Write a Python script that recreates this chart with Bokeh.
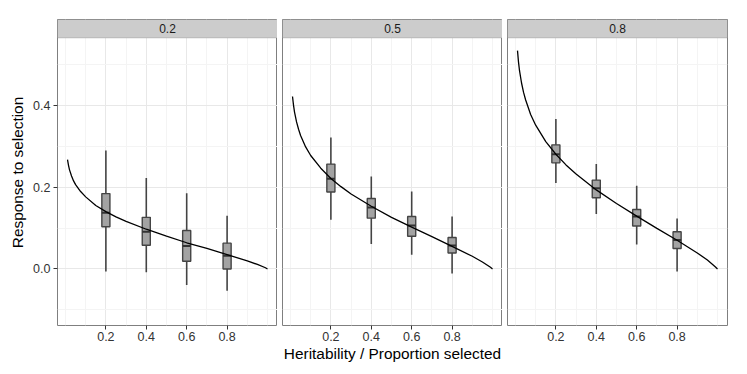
from bokeh.plotting import figure
from bokeh.layouts import row
from bokeh.models import Range1d, FixedTicker, BoxAnnotation, Label, ColumnDataSource, CustomJSTickFormatter
from bokeh.embed import file_html
from bokeh.resources import INLINE

# ---- data ----
heritability = ["0.2", "0.5", "0.8"]
box_x = [0.2, 0.4, 0.6, 0.8]

curve_p = [0.01, 0.015, 0.02, 0.03, 0.04, 0.05, 0.075, 0.1, 0.15, 0.2, 0.25,
           0.3, 0.4, 0.5, 0.6, 0.7, 0.8, 0.9, 0.95, 0.99, 1.0]
curve_h02 = [0.267, 0.253, 0.242, 0.227, 0.215, 0.206, 0.189, 0.176, 0.155, 0.140, 0.127,
             0.116, 0.097, 0.080, 0.064, 0.050, 0.035, 0.020, 0.011, 0.003, 0.0]
curve_h05 = [0.421, 0.400, 0.383, 0.359, 0.341, 0.326, 0.298, 0.277, 0.246, 0.221, 0.201,
             0.183, 0.153, 0.126, 0.102, 0.079, 0.055, 0.031, 0.017, 0.004, 0.0]
curve_h08 = [0.533, 0.505, 0.484, 0.454, 0.431, 0.413, 0.377, 0.351, 0.311, 0.280, 0.254,
             0.232, 0.193, 0.160, 0.129, 0.099, 0.070, 0.039, 0.022, 0.005, 0.0]

# whisker low, q1, median, q3, whisker high
lo_h02 = [-0.006, -0.008, -0.039, -0.053]
q1_h02 = [0.103, 0.058, 0.019, 0.000]
med_h02 = [0.137, 0.091, 0.056, 0.032]
q3_h02 = [0.184, 0.126, 0.094, 0.063]
hi_h02 = [0.289, 0.222, 0.185, 0.130]

lo_h05 = [0.120, 0.061, 0.035, -0.011]
q1_h05 = [0.188, 0.124, 0.080, 0.039]
med_h05 = [0.220, 0.150, 0.106, 0.057]
q3_h05 = [0.256, 0.172, 0.128, 0.077]
hi_h05 = [0.321, 0.226, 0.189, 0.128]

lo_h08 = [0.210, 0.134, 0.060, -0.006]
q1_h08 = [0.259, 0.174, 0.105, 0.050]
med_h08 = [0.280, 0.197, 0.128, 0.071]
q3_h08 = [0.303, 0.217, 0.145, 0.091]
hi_h08 = [0.366, 0.256, 0.203, 0.123]

y_ticks = [0.0, 0.2, 0.4]
y_minor = [-0.1, 0.1, 0.3, 0.5]
x_ticks = [0.2, 0.4, 0.6, 0.8]
x_minor = [0.0, 0.1, 0.3, 0.5, 0.7, 0.9, 1.0]

panels = [
    (heritability[0], curve_h02, lo_h02, q1_h02, med_h02, q3_h02, hi_h02),
    (heritability[1], curve_h05, lo_h05, q1_h05, med_h05, q3_h05, hi_h05),
    (heritability[2], curve_h08, lo_h08, q1_h08, med_h08, q3_h08, hi_h08),
]

# ---- styling ----
FONT = "Liberation Sans"
X_LO, X_HI = -0.0395, 1.0495
Y_LO, Y_DATA_HI, Y_HI = -0.138, 0.564, 0.609
BOX_W = 0.04

figs = []
for k, (lab, curve, lo, q1, med, q3, hi) in enumerate(panels):
    first = k == 0
    middle = k == 1
    p = figure(frame_width=220, frame_height=306,
               x_range=Range1d(X_LO, X_HI), y_range=Range1d(Y_LO, Y_HI),
               output_backend="svg", toolbar_location=None,
               y_axis_location="left" if first else None,
               min_border_top=19, min_border_bottom=10,
               min_border_left=57 if first else 5,
               min_border_right=10 if k == 2 else 0,
               background_fill_color="white", border_fill_color="white",
               outline_line_color="#7F7F7F", outline_line_width=1)

    # grids
    p.xgrid.ticker = FixedTicker(ticks=x_ticks, minor_ticks=x_minor)
    p.ygrid.ticker = FixedTicker(ticks=y_ticks, minor_ticks=y_minor)
    for g in (p.xgrid[0], p.ygrid[0]):
        g.grid_line_color = "#E8E8E8"
        g.grid_line_width = 1
        g.minor_grid_line_color = "#F4F4F4"
        g.minor_grid_line_width = 1

    # x axis
    xa = p.xaxis[0]
    xa.ticker = FixedTicker(ticks=x_ticks, minor_ticks=[])
    xa.axis_line_color = None
    xa.major_tick_in = 0
    xa.major_tick_out = 4
    xa.major_tick_line_color = "#333333"
    xa.minor_tick_line_color = None
    xa.major_label_standoff = 2
    xa.major_label_text_font = FONT
    xa.major_label_text_font_size = "12.5px"
    xa.major_label_text_color = "#333333"
    if middle:
        xa.axis_label = "Heritability / Proportion selected"
        xa.axis_label_text_font = FONT
        xa.axis_label_text_font_size = "15.4px"
        xa.axis_label_text_font_style = "normal"
        xa.axis_label_text_color = "black"
        xa.axis_label_standoff = 1

    if first:
        ya = p.yaxis[0]
        ya.ticker = FixedTicker(ticks=y_ticks, minor_ticks=[])
        ya.axis_line_color = None
        ya.major_tick_in = 0
        ya.major_tick_out = 4
        ya.major_tick_line_color = "#333333"
        ya.minor_tick_line_color = None
        ya.major_label_standoff = 3
        ya.major_label_text_font = FONT
        ya.major_label_text_font_size = "12.5px"
        ya.major_label_text_color = "#333333"
        ya.axis_label = "Response to selection"
        ya.axis_label_text_font = FONT
        ya.axis_label_text_font_size = "15.4px"
        ya.axis_label_text_font_style = "normal"
        ya.axis_label_text_color = "black"
        ya.axis_label_standoff = 4
        ya.formatter = CustomJSTickFormatter(code="return tick.toFixed(1);")

    # boxplots
    src = ColumnDataSource(dict(
        x=box_x, lo=lo, q1=q1, med=med, q3=q3, hi=hi,
        xl=[v - BOX_W / 2 for v in box_x], xr=[v + BOX_W / 2 for v in box_x]))
    p.segment(x0="x", y0="lo", x1="x", y1="hi", source=src,
              line_color="#444444", line_width=1.6)
    p.vbar(x="x", width=BOX_W, bottom="q1", top="q3", source=src,
           fill_color="#A3A3A3", line_color="#444444", line_width=1.4)
    p.segment(x0="xl", y0="med", x1="xr", y1="med", source=src,
              line_color="#333333", line_width=2)

    # theoretical curve
    p.line(curve_p, curve, line_color="black", line_width=1.3)

    # facet strip
    p.add_layout(BoxAnnotation(bottom=Y_DATA_HI, fill_color="#CCCCCC", fill_alpha=1,
                               line_color="#7F7F7F", line_width=1, level="overlay"))
    p.add_layout(Label(x=(X_LO + X_HI) / 2, y=(Y_DATA_HI + Y_HI) / 2, text=lab,
                       text_align="center", text_baseline="middle",
                       text_font=FONT, text_font_size="12px", text_color="#1A1A1A",
                       level="overlay"))
    figs.append(p)

layout = row(*figs)
open("out.html", "w").write(file_html(layout, INLINE))
